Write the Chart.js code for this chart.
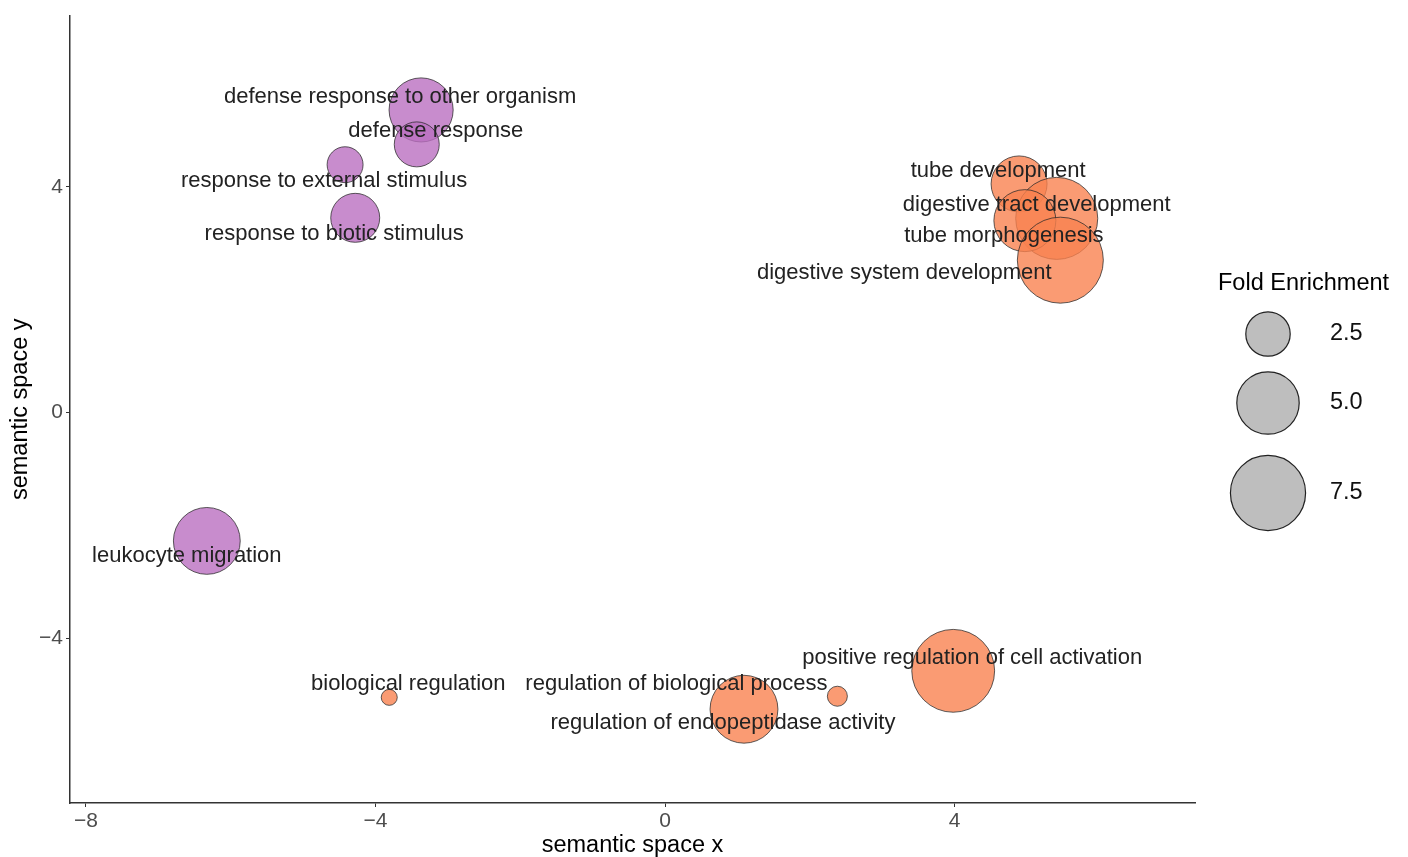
<!DOCTYPE html>
<html>
<head>
<meta charset="utf-8">
<script src="https://cdn.jsdelivr.net/npm/chart.js@4.4.1/dist/chart.umd.min.js"></script>
<style>
  html, body { margin: 0; padding: 0; background: #fff; }
  #wrap { width: 1408px; height: 857px; }
</style>
</head>
<body>
<div id="wrap"><canvas id="revigoChart"></canvas></div>
<script>
// GO terms in semantic space
const terms = [
  'defense response to other organism',
  'defense response',
  'response to external stimulus',
  'response to biotic stimulus',
  'leukocyte migration',
  'tube development',
  'digestive tract development',
  'tube morphogenesis',
  'digestive system development',
  'biological regulation',
  'regulation of biological process',
  'regulation of endopeptidase activity',
  'positive regulation of cell activation'
];
const semanticX = [-3.37, -3.43, -4.42, -4.28, -6.33, 4.89, 5.41, 4.97, 5.46, -3.81, 2.38, 1.09, 3.98];
const semanticY = [5.36, 4.75, 4.39, 3.45, -2.27, 4.05, 3.44, 3.40, 2.70, -5.04, -5.02, -5.25, -4.57];
const foldEnrichment = [5.3, 2.56, 1.74, 3.02, 5.8, 3.97, 9.1, 4.93, 10.1, 1.0, 1.03, 6.0, 9.3];
const clusters = [0, 0, 0, 0, 0, 1, 1, 1, 1, 1, 1, 1, 1];

const xTicks = [-8, -4, 0, 4];
const yTicks = [-4, 0, 4];
const legendValues = [2.5, 5.0, 7.5];
const legendLabels = ['2.5', '5.0', '7.5'];

// 标签偏移（像素，相对于点中心）
const labelOffsets = [
  [-21, -13], [19, -13], [-21, 16], [-21, 16], [-20, 15],
  [-21, -13], [-20, -13], [-21, 15], [-156, 13],
  [19, -13], [-161, -12], [-21, 14], [19, -13]
];

const clusterFill = ['rgba(186,111,193,0.8)', 'rgba(249,130,80,0.8)'];
const labelFont = '22px "Liberation Sans", Arial, sans-serif';

// 面积尺度（类似 ggplot scale_size）
function sizeFor(v) {
  return 8 + 11.6 * Math.sqrt(Math.max(0, v - 1));
}

const points = terms.map((t, i) => ({ x: semanticX[i], y: semanticY[i], v: foldEnrichment[i] }));

const labelPlugin = {
  id: 'termLabels',
  afterDatasetsDraw(chart) {
    const ctx = chart.ctx;
    const meta = chart.getDatasetMeta(0);
    ctx.save();
    ctx.font = labelFont;
    ctx.fillStyle = '#222';
    ctx.textAlign = 'center';
    ctx.textBaseline = 'middle';
    meta.data.forEach((el, i) => {
      ctx.fillText(terms[i], el.x + labelOffsets[i][0], el.y + labelOffsets[i][1]);
    });
    ctx.restore();
  }
};

const sizeLegendPlugin = {
  id: 'sizeLegend',
  afterDraw(chart) {
    const ctx = chart.ctx;
    const cx = 1268;
    const rowY = [334, 403, 493];
    ctx.save();
    ctx.font = '23.5px "Liberation Sans", Arial, sans-serif';
    ctx.fillStyle = '#000';
    ctx.textAlign = 'left';
    ctx.textBaseline = 'middle';
    ctx.fillText('Fold Enrichment', 1218, 284);
    legendValues.forEach((v, i) => {
      ctx.beginPath();
      ctx.arc(cx, rowY[i], sizeFor(v), 0, Math.PI * 2);
      ctx.fillStyle = '#bebebe';
      ctx.fill();
      ctx.lineWidth = 1.2;
      ctx.strokeStyle = '#222';
      ctx.stroke();
      ctx.fillStyle = '#111';
      ctx.fillText(legendLabels[i], 1330, rowY[i]);
    });
    ctx.restore();
  }
};

const minusFmt = v => String(v).replace('-', '\u2212');

new Chart(document.getElementById('revigoChart').getContext('2d'), {
  type: 'bubble',
  data: {
    datasets: [{
      data: points,
      radius: ctx => sizeFor(ctx.raw.v),
      hoverRadius: ctx => sizeFor(ctx.raw.v),
      backgroundColor: ctx => clusterFill[clusters[ctx.dataIndex]],
      borderColor: 'rgba(40,40,40,0.75)',
      borderWidth: 1
    }]
  },
  options: {
    responsive: true,
    maintainAspectRatio: false,
    animation: false,
    layout: { autoPadding: false, padding: { top: 12, right: 213, left: 0, bottom: 0 } },
    plugins: {
      legend: { display: false },
      tooltip: {
        callbacks: {
          label: c => `${terms[c.dataIndex]}: ${c.raw.v}`
        }
      }
    },
    scales: {
      x: {
        type: 'linear',
        min: -8.22,
        max: 7.32,
        afterBuildTicks: s => { s.ticks = xTicks.map(v => ({ value: v })); },
        afterFit: s => { s.height = 54; },
        grid: { drawOnChartArea: false, drawTicks: true, tickLength: 4, color: '#333' },
        border: { display: true, color: '#333', width: 1.5 },
        ticks: {
          callback: minusFmt,
          color: '#4d4d4d',
          padding: 2,
          maxRotation: 0,
          font: { family: '"Liberation Sans", Arial, sans-serif', size: 21 }
        },
        title: {
          display: true,
          text: 'semantic space x',
          color: '#000',
          padding: { top: 0, bottom: 0 },
          font: { family: '"Liberation Sans", Arial, sans-serif', size: 23.5, lineHeight: 1 }
        }
      },
      y: {
        type: 'linear',
        min: -6.91,
        max: 7.03,
        afterBuildTicks: s => { s.ticks = yTicks.map(v => ({ value: v })); },
        afterFit: s => { s.width = 70; },
        grid: { drawOnChartArea: false, drawTicks: true, tickLength: 4, color: '#333' },
        border: { display: true, color: '#333', width: 1.5 },
        ticks: {
          callback: minusFmt,
          color: '#4d4d4d',
          padding: 3,
          font: { family: '"Liberation Sans", Arial, sans-serif', size: 21 }
        },
        title: {
          display: true,
          text: 'semantic space y',
          color: '#000',
          padding: { top: 9, bottom: 0 },
          font: { family: '"Liberation Sans", Arial, sans-serif', size: 23.5, lineHeight: 1 }
        }
      }
    }
  },
  plugins: [labelPlugin, sizeLegendPlugin]
});
</script>
</body>
</html>
